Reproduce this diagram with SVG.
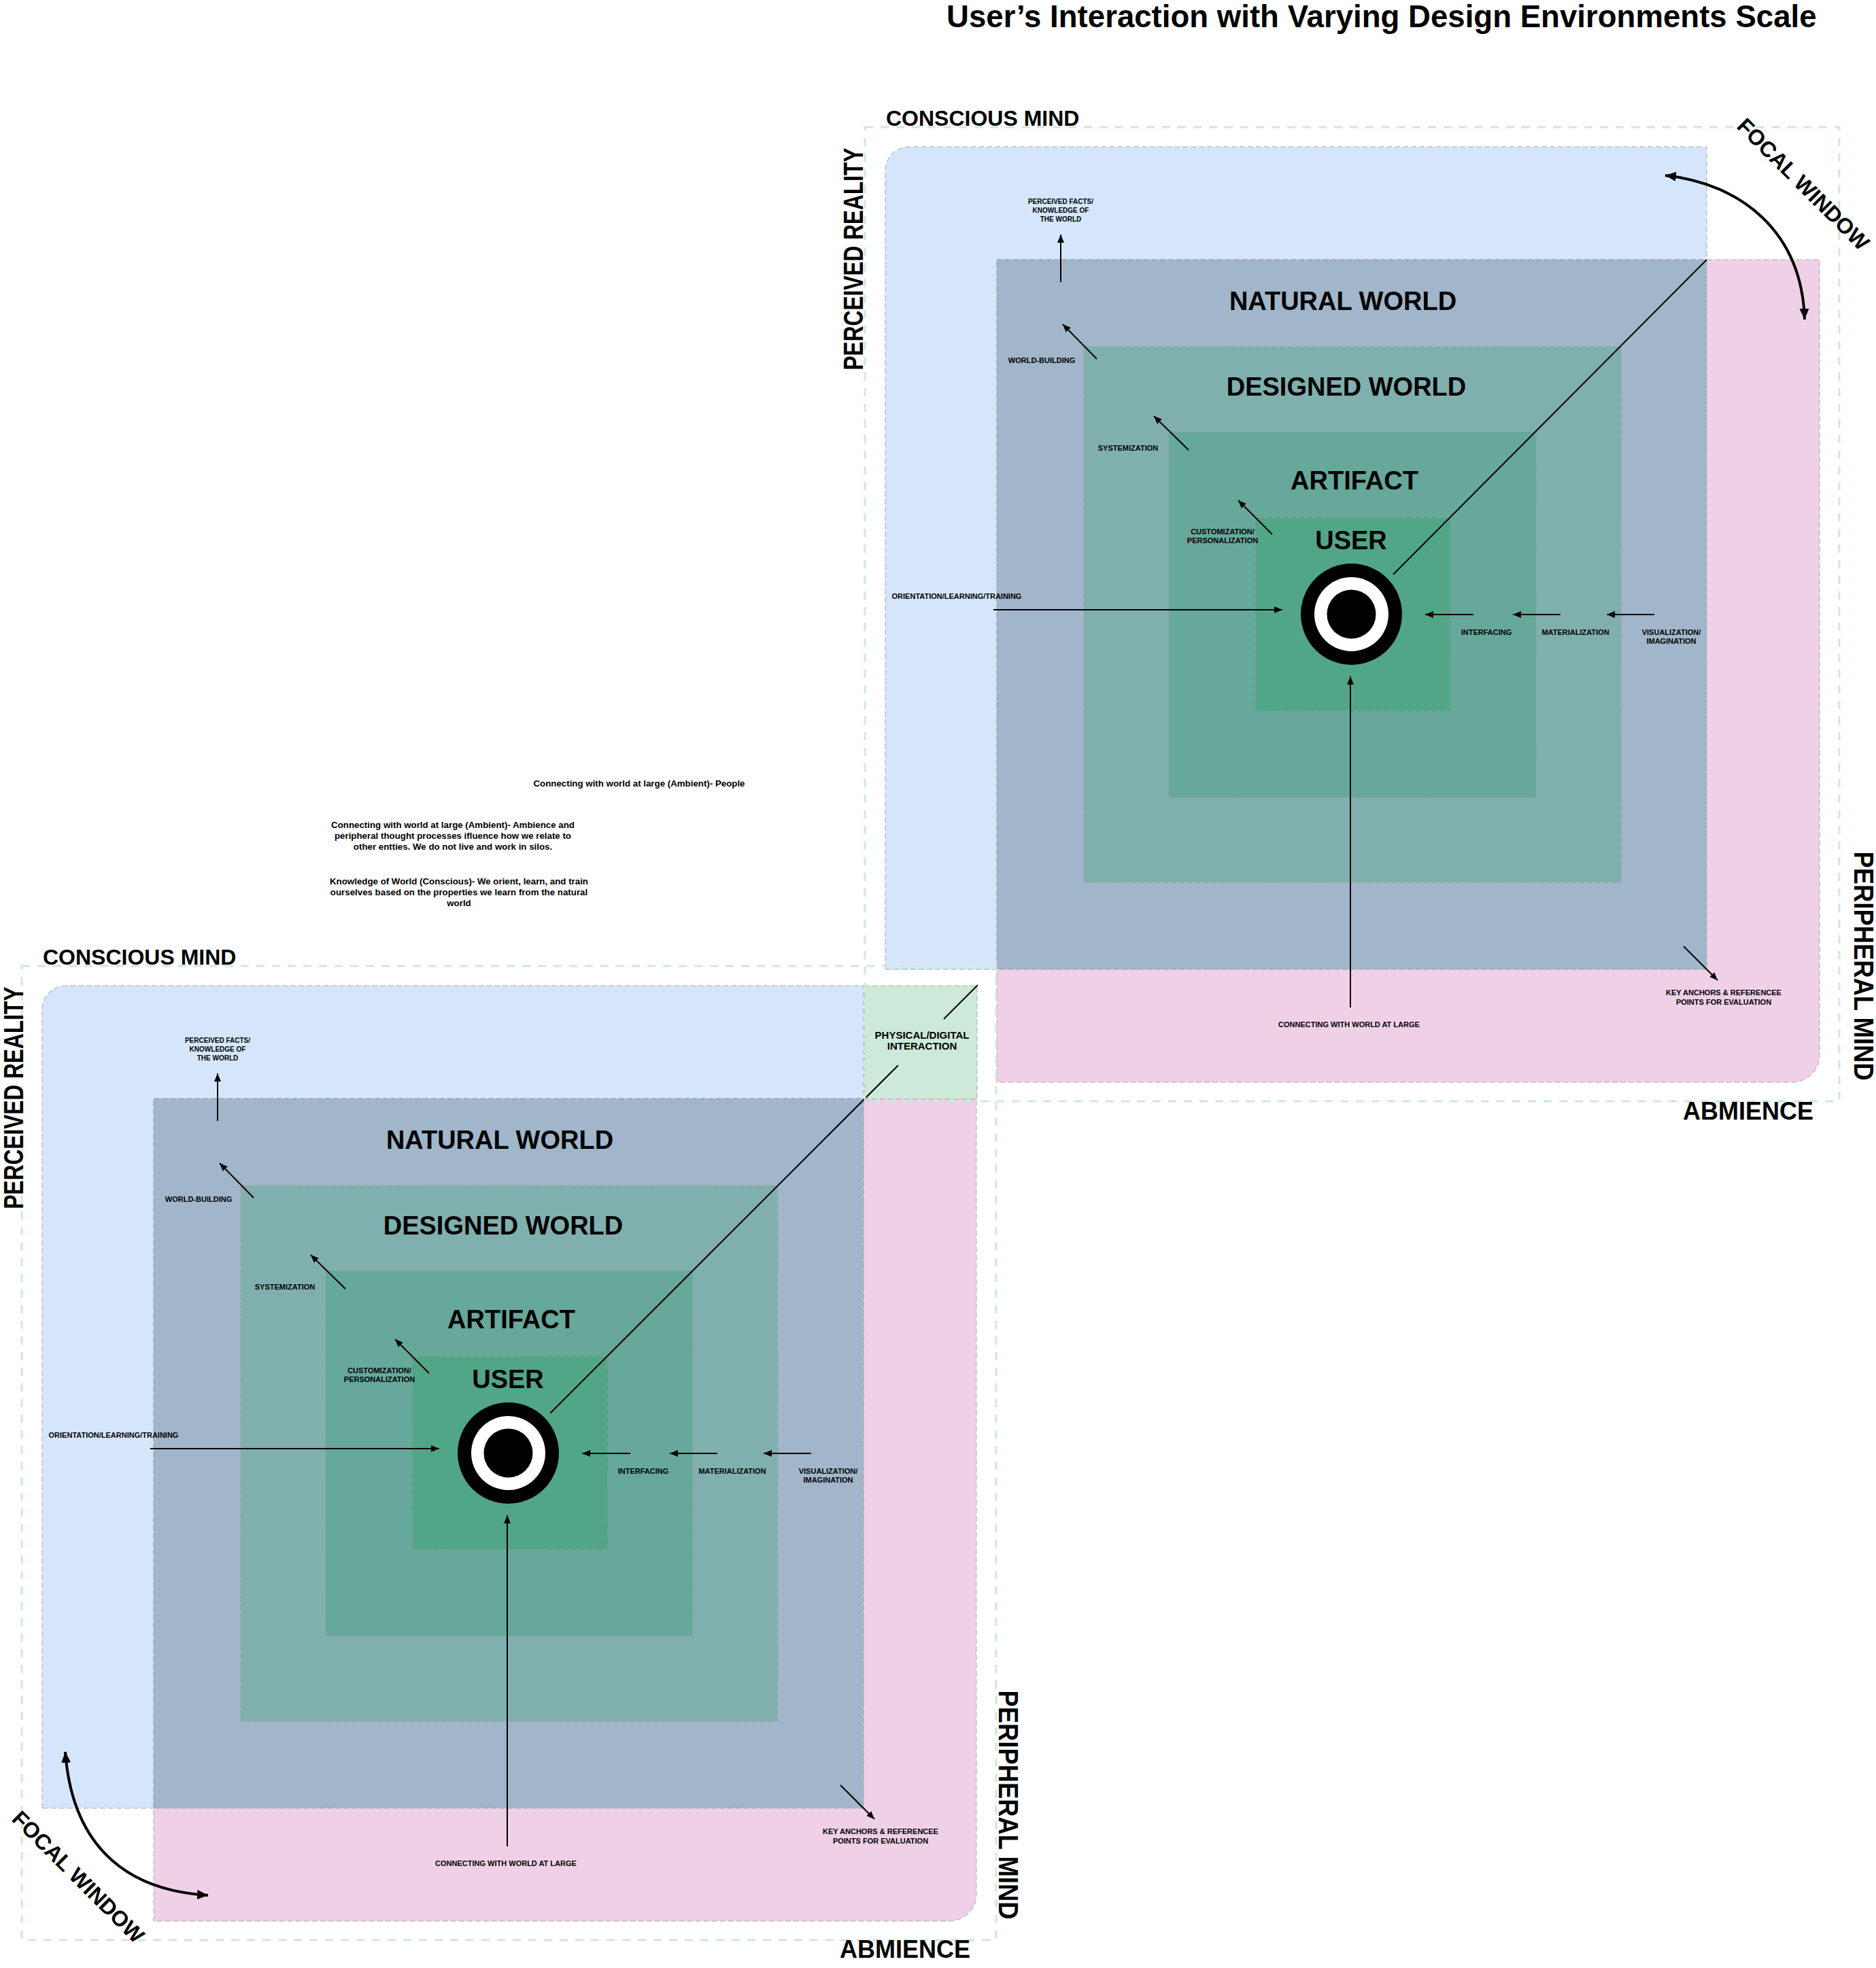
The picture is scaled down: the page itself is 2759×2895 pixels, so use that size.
<svg xmlns="http://www.w3.org/2000/svg" width="2759" height="2895" viewBox="0 0 2759 2895">
<style>
text{font-family:"Liberation Sans",Arial,Helvetica,sans-serif;font-weight:bold;fill:#000}
.big{font-size:38px;text-anchor:middle}
.lbl{font-size:11px;text-anchor:middle}
.lbl10{font-size:10px;text-anchor:middle}
.side{font-size:32px}
.rot{font-size:40px;text-anchor:middle}
.note{font-size:13.3px;text-anchor:middle}
.edge{stroke:#9a9a9a;stroke-opacity:0.55;stroke-width:1.5;stroke-dasharray:8 4}
.frame{fill:none;stroke:#cde9da;stroke-width:3;stroke-dasharray:12 11}
.arr{stroke:#000;stroke-width:2;fill:none;marker-end:url(#ah)}
.diag{stroke:#000;stroke-width:2;fill:none}
.focal{stroke:#000;stroke-width:4;fill:none;marker-start:url(#ahb);marker-end:url(#ahb)}
</style>
<defs>
<marker id="ah" viewBox="0 0 12 10" refX="12" refY="5" markerWidth="12" markerHeight="10" markerUnits="userSpaceOnUse" orient="auto"><path d="M0,0 L12,5 L0,10 z" fill="#000"/></marker>
<marker id="ahb" viewBox="0 0 16 14" refX="16" refY="7" markerWidth="16" markerHeight="14" markerUnits="userSpaceOnUse" orient="auto-start-reverse"><path d="M0,0 L16,7 L0,14 z" fill="#000"/></marker>
</defs>
<rect x="0" y="0" width="2759" height="2895" fill="#fff"/>
<text x="1392" y="40" style="font-size:45.6px">User’s Interaction with Varying Design Environments Scale</text>

<!-- ===== Top-right diagram ===== -->
<g id="tr-blue"><path class="edge" d="M1302,1426 L1302,251 A35,35 0 0 1 1337,216 L2510,216 L2510,1426 Z" fill="#d5e6fc"/></g>
<g id="tr-pink"><path class="edge" d="M1466,382 L2676,382 L2676,1552 A40,40 0 0 1 2636,1592 L1466,1592 Z" fill="#efd0e6"/></g>
<g id="tr-natural"><rect class="edge" x="1466" y="382" width="1044" height="1044" fill="#a1b6ca"/><text class="big" x="1975" y="456">NATURAL WORLD</text></g>
<g id="tr-designed"><rect class="edge" x="1594" y="510" width="790" height="788" fill="#80b0ae"/><text class="big" x="1980" y="582">DESIGNED WORLD</text></g>
<g id="tr-artifact"><rect class="edge" x="1719" y="635" width="540" height="538" fill="#66a89a"/><text class="big" x="1992" y="720">ARTIFACT</text></g>
<g id="tr-user"><rect class="edge" x="1846" y="761" width="288" height="285" fill="#52a688"/><text class="big" x="1987" y="808">USER</text>
<circle cx="1987.5" cy="903.5" r="74.5" fill="#000"/><circle cx="1987.5" cy="903.5" r="54.5" fill="#fff"/><circle cx="1987.5" cy="903.5" r="36" fill="#000"/></g>
<g id="tr-labels">
<text class="lbl10" x="1560" y="300">PERCEIVED FACTS/</text>
<text class="lbl10" x="1560" y="313">KNOWLEDGE OF</text>
<text class="lbl10" x="1560" y="326">THE WORLD</text>
<text class="lbl" x="1532" y="534">WORLD-BUILDING</text>
<text class="lbl" x="1659" y="663">SYSTEMIZATION</text>
<text class="lbl" x="1798" y="786">CUSTOMIZATION/</text>
<text class="lbl" x="1798" y="799">PERSONALIZATION</text>
<text class="lbl" x="1407" y="881">ORIENTATION/LEARNING/TRAINING</text>
<text class="lbl" x="2186" y="934">INTERFACING</text>
<text class="lbl" x="2317" y="934">MATERIALIZATION</text>
<text class="lbl" x="2458" y="934">VISUALIZATION/</text>
<text class="lbl" x="2458" y="947">IMAGINATION</text>
<text class="lbl" x="1984" y="1511">CONNECTING WITH WORLD AT LARGE</text>
<text class="lbl" x="2535" y="1464">KEY ANCHORS &amp; REFERENCEE</text>
<text class="lbl" x="2535" y="1478">POINTS FOR EVALUATION</text>
</g>
<g id="tr-connectors">
<line class="arr" x1="1560" y1="415" x2="1560" y2="345"/>
<line class="arr" x1="1613" y1="528" x2="1563" y2="477"/>
<line class="arr" x1="1748" y1="662" x2="1697" y2="612"/>
<line class="arr" x1="1871" y1="786" x2="1821" y2="736"/>
<line class="arr" x1="1461" y1="897" x2="1886" y2="897"/>
<line class="arr" x1="2167" y1="904" x2="2096" y2="904"/>
<line class="arr" x1="2295" y1="904" x2="2225" y2="904"/>
<line class="arr" x1="2433" y1="904" x2="2363" y2="904"/>
<line class="arr" x1="1986" y1="1482" x2="1986" y2="995"/>
<line class="arr" x1="2476" y1="1392" x2="2526" y2="1442"/>
<line class="diag" x1="2049" y1="845" x2="2510" y2="382"/>
<path class="focal" d="M2449,258 C2560,270 2650,340 2654,470"/>
</g>

<!-- ===== Bottom-left diagram (same layout shifted) ===== -->
<g transform="translate(-1240,1234)">
<g id="bl-blue"><path class="edge" d="M1302,1426 L1302,251 A35,35 0 0 1 1337,216 L2510,216 L2510,1426 Z" fill="#d5e6fc"/></g>
<g id="bl-pink"><path class="edge" d="M1466,382 L2676,382 L2676,1552 A40,40 0 0 1 2636,1592 L1466,1592 Z" fill="#efd0e6"/></g>
<g id="bl-natural"><rect class="edge" x="1466" y="382" width="1044" height="1044" fill="#a1b6ca"/><text class="big" x="1975" y="456">NATURAL WORLD</text></g>
<g id="bl-designed"><rect class="edge" x="1594" y="510" width="790" height="788" fill="#80b0ae"/><text class="big" x="1980" y="582">DESIGNED WORLD</text></g>
<g id="bl-artifact"><rect class="edge" x="1719" y="635" width="540" height="538" fill="#66a89a"/><text class="big" x="1992" y="720">ARTIFACT</text></g>
<g id="bl-user"><rect class="edge" x="1846" y="761" width="288" height="285" fill="#52a688"/><text class="big" x="1987" y="808">USER</text>
<circle cx="1987.5" cy="903.5" r="74.5" fill="#000"/><circle cx="1987.5" cy="903.5" r="54.5" fill="#fff"/><circle cx="1987.5" cy="903.5" r="36" fill="#000"/></g>
<g id="bl-labels">
<text class="lbl10" x="1560" y="300">PERCEIVED FACTS/</text>
<text class="lbl10" x="1560" y="313">KNOWLEDGE OF</text>
<text class="lbl10" x="1560" y="326">THE WORLD</text>
<text class="lbl" x="1532" y="534">WORLD-BUILDING</text>
<text class="lbl" x="1659" y="663">SYSTEMIZATION</text>
<text class="lbl" x="1798" y="786">CUSTOMIZATION/</text>
<text class="lbl" x="1798" y="799">PERSONALIZATION</text>
<text class="lbl" x="1407" y="881">ORIENTATION/LEARNING/TRAINING</text>
<text class="lbl" x="2186" y="934">INTERFACING</text>
<text class="lbl" x="2317" y="934">MATERIALIZATION</text>
<text class="lbl" x="2458" y="934">VISUALIZATION/</text>
<text class="lbl" x="2458" y="947">IMAGINATION</text>
<text class="lbl" x="1984" y="1511">CONNECTING WITH WORLD AT LARGE</text>
<text class="lbl" x="2535" y="1464">KEY ANCHORS &amp; REFERENCEE</text>
<text class="lbl" x="2535" y="1478">POINTS FOR EVALUATION</text>
</g>
<g id="bl-connectors">
<line class="arr" x1="1560" y1="415" x2="1560" y2="345"/>
<line class="arr" x1="1613" y1="528" x2="1563" y2="477"/>
<line class="arr" x1="1748" y1="662" x2="1697" y2="612"/>
<line class="arr" x1="1871" y1="786" x2="1821" y2="736"/>
<line class="arr" x1="1461" y1="897" x2="1886" y2="897"/>
<line class="arr" x1="2167" y1="904" x2="2096" y2="904"/>
<line class="arr" x1="2295" y1="904" x2="2225" y2="904"/>
<line class="arr" x1="2433" y1="904" x2="2363" y2="904"/>
<line class="arr" x1="1986" y1="1482" x2="1986" y2="995"/>
<line class="arr" x1="2476" y1="1392" x2="2526" y2="1442"/>
</g>
</g>

<g id="interaction-box"><rect class="edge" x="1271" y="1450" width="166" height="167" fill="#cde9da"/>
<text x="1356" y="1528" style="font-size:15px;text-anchor:middle">PHYSICAL/DIGITAL</text>
<text x="1356" y="1544" style="font-size:15px;text-anchor:middle">INTERACTION</text></g>
<g id="bl-connectors-extra">
<line class="diag" x1="809" y1="2079" x2="1321" y2="1567"/>
<line class="diag" x1="1388" y1="1499" x2="1438" y2="1449"/>
<path class="focal" d="M96,2577 C105,2700 170,2780 306,2788"/>
</g>

<!-- frames -->
<g id="frames">
<rect class="frame" x="1272" y="187" width="1433" height="1433"/>
<rect class="frame" x="32" y="1421" width="1433" height="1433"/>
</g>

<!-- side labels -->
<g id="tr-side">
<text class="side" x="1303" y="185">CONSCIOUS MIND</text>
<text class="rot" transform="translate(1255,381) rotate(-90)" x="0" y="14" textLength="327" lengthAdjust="spacingAndGlyphs">PERCEIVED REALITY</text>
<text class="rot" transform="translate(2741,1421) rotate(90)" x="0" y="14" textLength="337" lengthAdjust="spacingAndGlyphs">PERIPHERAL MIND</text>
<text style="font-size:36px" x="2475" y="1647">ABMIENCE</text>
<text class="side" style="text-anchor:middle" transform="translate(2652,271) rotate(45)" x="0" y="11">FOCAL WINDOW</text>
</g>
<g id="bl-side">
<text class="side" x="63" y="1419">CONSCIOUS MIND</text>
<text class="rot" transform="translate(20,1615) rotate(-90)" x="0" y="14" textLength="327" lengthAdjust="spacingAndGlyphs">PERCEIVED REALITY</text>
<text class="rot" transform="translate(1483,2655) rotate(90)" x="0" y="14" textLength="337" lengthAdjust="spacingAndGlyphs">PERIPHERAL MIND</text>
<text style="font-size:36px" x="1235" y="2880">ABMIENCE</text>
<text class="side" style="text-anchor:middle" transform="translate(115,2761) rotate(45)" x="0" y="11">FOCAL WINDOW</text>
</g>

<g id="notes">
<text class="note" x="940" y="1157">Connecting with world at large (Ambient)- People</text>
<text class="note" x="666" y="1218">Connecting with world at large (Ambient)- Ambience and</text>
<text class="note" x="666" y="1234">peripheral thought processes ifluence how we relate to</text>
<text class="note" x="666" y="1250">other entties. We do not live and work in silos.</text>
<text class="note" x="675" y="1301">Knowledge of World (Conscious)- We orient, learn, and train</text>
<text class="note" x="675" y="1317">ourselves based on the properties we learn from the natural</text>
<text class="note" x="675" y="1333">world</text>
</g>
</svg>
